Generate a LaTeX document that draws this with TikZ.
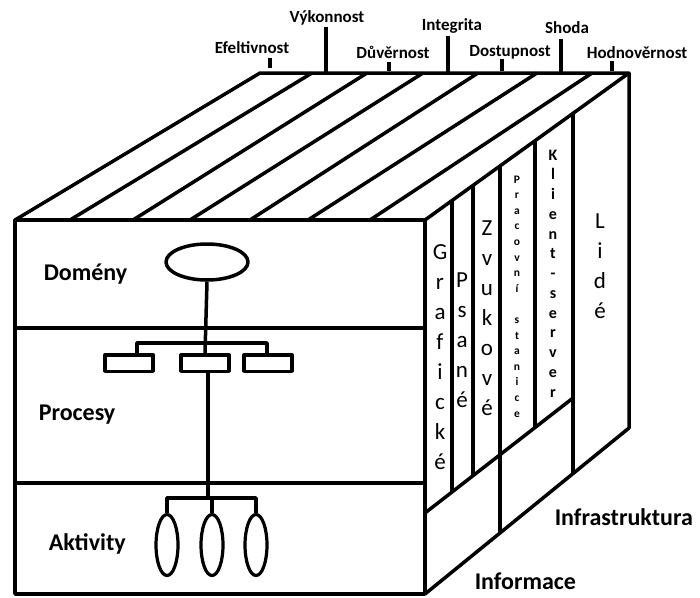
\documentclass[tikz,border=0pt]{standalone}
\usepackage{fontspec}
\setmainfont{Carlito}
\usetikzlibrary{shapes.geometric}

\begin{document}
\begin{tikzpicture}[x=1pt,y=-1pt, line width=3.5pt, line join=round,
  lab/.style={anchor=base west, inner sep=0pt, font=\bfseries\fontsize{24}{28}\selectfont},
  crit/.style={anchor=base, inner sep=0pt, font=\bfseries\fontsize{17}{20}\selectfont},
  letter/.style={anchor=base, inner sep=0pt, font=\fontsize{23}{26}\selectfont},
  procbox/.style={draw, rectangle, inner sep=0pt, minimum width=48, minimum height=16.5},
  domoval/.style={draw, ellipse, inner sep=0pt, minimum width=82, minimum height=36},
  actoval/.style={draw, ellipse, inner sep=0pt, line width=3.2pt, minimum width=22, minimum height=61}]
\useasboundingbox (0,0) rectangle (700,597);

% corners of the cube
\coordinate (ftl) at (15,220);
\coordinate (ftr) at (425,220);
\coordinate (fbl) at (15,594);
\coordinate (fbr) at (425,594);
\coordinate (btl) at (260,73);
\coordinate (btr) at (629,73);
\coordinate (bbr) at (629,428);

% front face with its three layers
\draw (ftl) rectangle (fbr);
\draw (15,328) -- (425,328);
\draw (15,483) -- (425,483);

% top face, one strip per criterion
\draw (ftl) -- (btl) -- (btr) -- (ftr);
\foreach \a/\b in {70/312,133/367,190/423,250/478,308/537,370/592}
  \draw (\a,220) -- (\b,73);

% right face
\draw (btr) -- (bbr) -- (fbr);
\draw (425,513) -- (573,398);
\foreach \x/\ya/\yb in {452/200.5/492, 473/185.4/475.7, 500/166/533, 535/140.7/427.5, 573/113.4/473.6}
  \draw (\x,\ya) -- (\x,\yb);

% criteria above the back edge
\foreach \x/\ya/\yb in {270/58/68, 326/27/73, 389/62/71, 448/36/73, 502/59/71, 561/39/73, 612/61/71}
  \draw (\x,\ya) -- (\x,\yb);
\node[crit] (eff) at (252,53.3) {Efeltivnost};
\node[crit] (vyk) at (327,22.7) {Výkonnost};
\node[crit] (duv) at (393,58.3) {Důvěrnost};
\node[crit] (integ) at (452,30.7) {Integrita};
\node[crit] (dost) at (510,56.7) {Dostupnost};
\node[crit] (shoda) at (567,33.3) {Shoda};
\node[crit] (hodn) at (637,58.3) {Hodnověrnost};

% layer labels
\node[lab] (domeny) at (42,280) {Domény};
\node[lab] (procesy) at (37,420.7) {Procesy};
\node[lab] (aktivity) at (47,550) {Aktivity};
\node[lab] (infra) at (553,525) {Infrastruktura};
\node[lab] (info) at (473,589) {Informace};

% tree: domain -> processes -> activities
\node[domoval] (dom) at (207,262) {};
\node[procbox] (p1) at (129,363) {};
\node[procbox] (p2) at (205,363) {};
\node[procbox] (p3) at (268,363) {};
\coordinate (pl) at (137,343);
\coordinate (pr) at (267,343);
\draw (dom.south) -- (p2.north);
\draw (p1.north -| pl) -- (pl) -- (pr) -- (p3.north -| pr);

\node[actoval] (a1) at (167,545) {};
\node[actoval] (a2) at (212,545) {};
\node[actoval] (a3) at (256,545) {};
\coordinate (abar) at (208,498);
\draw (p2.south -| abar) -- (abar);
\draw (a1.north) |- (abar) -| (a3.north);
\draw (a2.north) -- (a2.north |- abar);

% column words, one letter under the other
\foreach \c [count=\i from 0] in {G,r,a,f,i,c,k,é}
  \node[letter] (graf\i) at (440,259+30*\i) {\c};
\foreach \c [count=\i from 0] in {P,s,a,n,é}
  \node[letter] (psane\i) at (462,287+30*\i) {\c};
\foreach \c [count=\i from 0] in {Z,v,u,k,o,v,é}
  \node[letter] (zvuk\i) at (487,235+30*\i) {\c};
\foreach \c [count=\i from 0] in {P,r,a,c,o,v,n,í,{},s,t,a,n,i,c,e}
  \node[letter, font=\bfseries\fontsize{11.5}{14}\selectfont] (stan\i) at (517,183+15.6*\i) {\c};
\foreach \c [count=\i from 0] in {K,l,i,e,n,t,-,s,e,r,v,e,r}
  \node[letter, font=\bfseries\fontsize{16}{18}\selectfont] (klient\i) at (553,160+19.75*\i) {\c};
\foreach \c [count=\i from 0] in {L,i,d,é}
  \node[letter] (lide\i) at (600,228+30*\i) {\c};
\end{tikzpicture}
\end{document}
